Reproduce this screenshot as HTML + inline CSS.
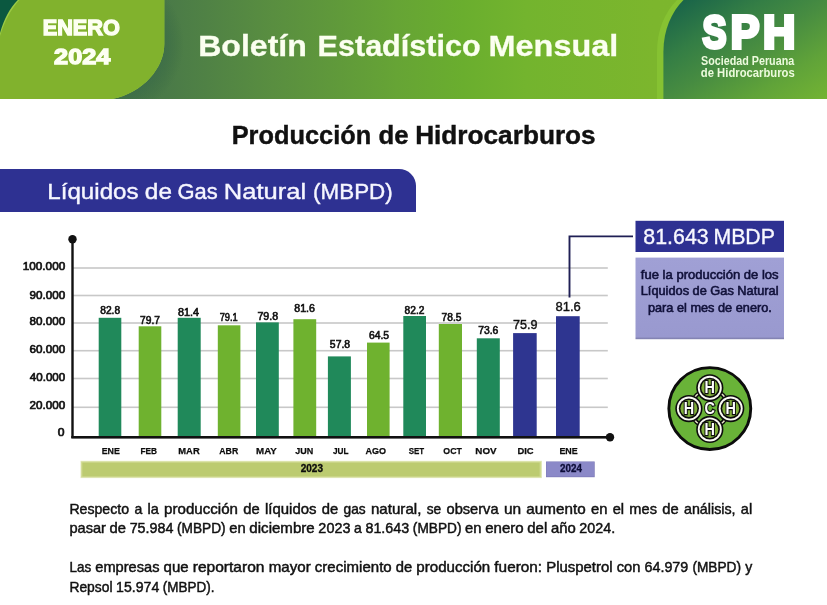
<!DOCTYPE html>
<html lang="es"><head><meta charset="utf-8"><title>Boletín Estadístico Mensual</title>
<style>
html,body{margin:0;padding:0;background:#fff;}
body{width:827px;height:605px;overflow:hidden;font-family:"Liberation Sans",sans-serif;}
svg{display:block;will-change:transform;font-family:"Liberation Sans",sans-serif;}
</style></head><body>
<svg width="827" height="605" viewBox="0 0 827 605">
<defs>
<linearGradient id="hdr" gradientUnits="userSpaceOnUse" x1="0" y1="0" x2="827" y2="0">
<stop offset="0" stop-color="#3f6f4a"/><stop offset="0.20" stop-color="#4a7a48"/><stop offset="0.33" stop-color="#598e40"/><stop offset="0.48" stop-color="#66a435"/><stop offset="0.56" stop-color="#6aae2e"/><stop offset="0.635" stop-color="#73b42e"/><stop offset="0.79" stop-color="#7cb62d"/><stop offset="1" stop-color="#7db72d"/>
</linearGradient>
<linearGradient id="logo" gradientUnits="userSpaceOnUse" x1="666" y1="0" x2="754" y2="145">
<stop offset="0" stop-color="#145f4a"/><stop offset="0.3" stop-color="#347e45"/><stop offset="0.5" stop-color="#478c41"/><stop offset="0.75" stop-color="#60a339"/><stop offset="1" stop-color="#74b433"/>
</linearGradient>
<radialGradient id="bshadow" gradientUnits="userSpaceOnUse" cx="112" cy="44" r="72">
<stop offset="0.72" stop-color="#2f6048" stop-opacity="0.4"/><stop offset="1" stop-color="#2a5a3a" stop-opacity="0"/>
</radialGradient>
<linearGradient id="lav" x1="0" y1="0" x2="0" y2="1">
<stop offset="0" stop-color="#a0a0d5"/><stop offset="0.97" stop-color="#9999cf"/><stop offset="1" stop-color="#7b7ba8"/>
</linearGradient>
</defs>

<rect x="0" y="0" width="827" height="99" fill="url(#hdr)"/>
<rect x="100" y="0" width="90" height="99" fill="url(#bshadow)"/>
<rect x="0" y="0" width="40" height="40" fill="#0b5840"/>
<path d="M16.6,0 L164.3,0 L164.3,44 C164.3,68 143,93 112,99 L0,99 L0,33 C4,19.5 9.5,8 17.8,0 Z" fill="#9ccb45"/>
<path d="M18,0 L164.3,0 L164.3,44 C164.3,68 143,93 112,99 L0,99 L0,36 C4.5,21.5 11,9 19.4,0 Z" fill="#81b22d"/>
<text x="42.75" y="34.80" font-size="22.24" font-weight="700" fill="#fdfff2" text-anchor="start" textLength="77.06" lengthAdjust="spacingAndGlyphs" stroke="#fdfff2" stroke-width="1.4" stroke-linejoin="miter">ENERO</text>
<text x="54.12" y="63.80" font-size="22.53" font-weight="700" fill="#fdfff2" text-anchor="start" textLength="56.21" lengthAdjust="spacingAndGlyphs" stroke="#fdfff2" stroke-width="1.4" stroke-linejoin="miter">2024</text>
<text y="56.35" font-size="30.38" font-weight="700" fill="#fbfff0" stroke="#fbfff0" stroke-width="0.3" stroke-linejoin="miter"><tspan x="198.21" textLength="108.63" lengthAdjust="spacingAndGlyphs">Boletín</tspan> <tspan x="317.61" textLength="162.94" lengthAdjust="spacingAndGlyphs">Estadístico</tspan> <tspan x="488.58" textLength="129.66" lengthAdjust="spacingAndGlyphs">Mensual</tspan></text>
<path d="M827,0 L827,99 L657,99 L657,52 C657,30 665,12 677,0 Z" fill="#86c232"/>
<path d="M827,0 L827,99 L663.4,99 L663.4,52 C663.4,30 671.5,12 683.5,0 Z" fill="url(#logo)"/>
<text y="48.10" font-size="46.80" font-weight="700" fill="#fff" stroke="#fff" stroke-width="3.8" stroke-linejoin="miter"><tspan x="702.47" textLength="23.94" lengthAdjust="spacingAndGlyphs">S</tspan><tspan x="730.63" textLength="28.64" lengthAdjust="spacingAndGlyphs">P</tspan><tspan x="762.91" textLength="32.31" lengthAdjust="spacingAndGlyphs">H</tspan></text>
<text x="700.99" y="65.00" font-size="12.21" font-weight="700" fill="#ecfadc" text-anchor="start" textLength="93.24" lengthAdjust="spacingAndGlyphs">Sociedad Peruana</text>
<text x="700.84" y="76.90" font-size="12.21" font-weight="700" fill="#ecfadc" text-anchor="start" textLength="93.92" lengthAdjust="spacingAndGlyphs">de Hidrocarburos</text>
<text y="144.30" font-size="24.85" font-weight="700" fill="#111" stroke="#111" stroke-width="0.4" stroke-linejoin="miter"><tspan x="231.70" textLength="139.47" lengthAdjust="spacingAndGlyphs">Producción</tspan> <tspan x="378.64" textLength="30.04" lengthAdjust="spacingAndGlyphs">de</tspan> <tspan x="415.15" textLength="180.53" lengthAdjust="spacingAndGlyphs">Hidrocarburos</tspan></text>
<path d="M0,169 L399,169 A17,17 0 0 1 416,186 L416,212 L0,212 Z" fill="#2e3192"/>
<text y="198.90" font-size="22.82" font-weight="400" fill="#f6f6ff" stroke="#f6f6ff" stroke-width="0.4" stroke-linejoin="miter"><tspan x="47.32" textLength="91.25" lengthAdjust="spacingAndGlyphs">Líquidos</tspan> <tspan x="144.88" textLength="27.11" lengthAdjust="spacingAndGlyphs">de</tspan> <tspan x="177.50" textLength="40.19" lengthAdjust="spacingAndGlyphs">Gas</tspan> <tspan x="223.81" textLength="82.30" lengthAdjust="spacingAndGlyphs">Natural</tspan> <tspan x="313.11" textLength="79.58" lengthAdjust="spacingAndGlyphs">(MBPD)</tspan></text>
<rect x="73" y="267.2" width="534.8" height="1.6" fill="#c8c8c8"/>
<rect x="73" y="294.7" width="534.8" height="1.6" fill="#c8c8c8"/>
<rect x="73" y="322.2" width="534.8" height="1.6" fill="#c8c8c8"/>
<rect x="73" y="349.9" width="534.8" height="1.6" fill="#c8c8c8"/>
<rect x="73" y="377.7" width="534.8" height="1.6" fill="#c8c8c8"/>
<rect x="73" y="406.5" width="534.8" height="1.6" fill="#c8c8c8"/>
<rect x="98.7" y="317.8" width="22.6" height="118.7" fill="#20895a"/>
<rect x="138.7" y="326.3" width="22.6" height="110.2" fill="#6fb22f"/>
<rect x="177.7" y="317.8" width="23.0" height="118.7" fill="#20895a"/>
<rect x="217.8" y="325.3" width="22.6" height="111.2" fill="#6fb22f"/>
<rect x="256.0" y="322.4" width="22.8" height="114.1" fill="#20895a"/>
<rect x="293.4" y="319.2" width="22.8" height="117.3" fill="#6fb22f"/>
<rect x="327.9" y="356.4" width="23.0" height="80.1" fill="#20895a"/>
<rect x="367.0" y="342.6" width="22.6" height="93.9" fill="#6fb22f"/>
<rect x="403.3" y="316.0" width="22.7" height="120.5" fill="#20895a"/>
<rect x="438.8" y="324.0" width="23.2" height="112.5" fill="#6fb22f"/>
<rect x="476.8" y="338.3" width="23.0" height="98.2" fill="#20895a"/>
<rect x="513.1" y="333.1" width="23.6" height="103.4" fill="#2e3590"/>
<rect x="556.0" y="316.2" width="23.7" height="120.3" fill="#2e3590"/>
<rect x="71.3" y="239" width="2.4" height="199" fill="#111"/>
<rect x="71.3" y="436" width="539" height="2.6" fill="#111"/>
<circle cx="72.5" cy="239.2" r="4.2" fill="#111"/>
<circle cx="610" cy="437.3" r="4.2" fill="#111"/>
<text x="22.76" y="269.85" font-size="11.48" font-weight="400" fill="#111" text-anchor="start" textLength="42.45" lengthAdjust="spacingAndGlyphs" stroke="#111" stroke-width="0.7" stroke-linejoin="miter">100.000</text>
<text x="29.60" y="299.15" font-size="11.48" font-weight="400" fill="#111" text-anchor="start" textLength="35.60" lengthAdjust="spacingAndGlyphs" stroke="#111" stroke-width="0.7" stroke-linejoin="miter">90.000</text>
<text x="29.64" y="325.35" font-size="11.48" font-weight="400" fill="#111" text-anchor="start" textLength="35.56" lengthAdjust="spacingAndGlyphs" stroke="#111" stroke-width="0.7" stroke-linejoin="miter">80.000</text>
<text x="29.56" y="352.55" font-size="11.48" font-weight="400" fill="#111" text-anchor="start" textLength="35.65" lengthAdjust="spacingAndGlyphs" stroke="#111" stroke-width="0.7" stroke-linejoin="miter">60.000</text>
<text x="29.89" y="380.55" font-size="11.48" font-weight="400" fill="#111" text-anchor="start" textLength="35.32" lengthAdjust="spacingAndGlyphs" stroke="#111" stroke-width="0.7" stroke-linejoin="miter">40.000</text>
<text x="29.56" y="409.15" font-size="11.48" font-weight="400" fill="#111" text-anchor="start" textLength="35.64" lengthAdjust="spacingAndGlyphs" stroke="#111" stroke-width="0.7" stroke-linejoin="miter">20.000</text>
<text x="57.68" y="436.25" font-size="11.48" font-weight="400" fill="#111" text-anchor="start" textLength="6.75" lengthAdjust="spacingAndGlyphs" stroke="#111" stroke-width="0.7" stroke-linejoin="miter">0</text>
<text x="101.73" y="454.38" font-size="9.96" font-weight="700" fill="#0c0c0c" text-anchor="start" textLength="18.19" lengthAdjust="spacingAndGlyphs" stroke="#0c0c0c" stroke-width="0.25" stroke-linejoin="miter">ENE</text>
<text x="140.47" y="454.38" font-size="9.96" font-weight="700" fill="#0c0c0c" text-anchor="start" textLength="16.58" lengthAdjust="spacingAndGlyphs" stroke="#0c0c0c" stroke-width="0.25" stroke-linejoin="miter">FEB</text>
<text x="178.30" y="454.38" font-size="9.96" font-weight="700" fill="#0c0c0c" text-anchor="start" textLength="21.37" lengthAdjust="spacingAndGlyphs" stroke="#0c0c0c" stroke-width="0.25" stroke-linejoin="miter">MAR</text>
<text x="219.31" y="454.38" font-size="9.96" font-weight="700" fill="#0c0c0c" text-anchor="start" textLength="18.95" lengthAdjust="spacingAndGlyphs" stroke="#0c0c0c" stroke-width="0.25" stroke-linejoin="miter">ABR</text>
<text x="256.10" y="454.38" font-size="9.96" font-weight="700" fill="#0c0c0c" text-anchor="start" textLength="20.72" lengthAdjust="spacingAndGlyphs" stroke="#0c0c0c" stroke-width="0.25" stroke-linejoin="miter">MAY</text>
<text x="295.29" y="454.38" font-size="9.96" font-weight="700" fill="#0c0c0c" text-anchor="start" textLength="17.99" lengthAdjust="spacingAndGlyphs" stroke="#0c0c0c" stroke-width="0.25" stroke-linejoin="miter">JUN</text>
<text x="333.00" y="454.38" font-size="9.96" font-weight="700" fill="#0c0c0c" text-anchor="start" textLength="15.53" lengthAdjust="spacingAndGlyphs" stroke="#0c0c0c" stroke-width="0.25" stroke-linejoin="miter">JUL</text>
<text x="365.40" y="454.38" font-size="9.96" font-weight="700" fill="#0c0c0c" text-anchor="start" textLength="20.55" lengthAdjust="spacingAndGlyphs" stroke="#0c0c0c" stroke-width="0.25" stroke-linejoin="miter">AGO</text>
<text x="408.70" y="454.38" font-size="9.96" font-weight="700" fill="#0c0c0c" text-anchor="start" textLength="15.46" lengthAdjust="spacingAndGlyphs" stroke="#0c0c0c" stroke-width="0.25" stroke-linejoin="miter">SET</text>
<text x="443.37" y="454.38" font-size="9.96" font-weight="700" fill="#0c0c0c" text-anchor="start" textLength="18.50" lengthAdjust="spacingAndGlyphs" stroke="#0c0c0c" stroke-width="0.25" stroke-linejoin="miter">OCT</text>
<text x="475.37" y="454.38" font-size="9.96" font-weight="700" fill="#0c0c0c" text-anchor="start" textLength="21.27" lengthAdjust="spacingAndGlyphs" stroke="#0c0c0c" stroke-width="0.25" stroke-linejoin="miter">NOV</text>
<text x="517.39" y="454.38" font-size="9.96" font-weight="700" fill="#0c0c0c" text-anchor="start" textLength="16.24" lengthAdjust="spacingAndGlyphs" stroke="#0c0c0c" stroke-width="0.25" stroke-linejoin="miter">DIC</text>
<text x="559.43" y="454.38" font-size="9.96" font-weight="700" fill="#0c0c0c" text-anchor="start" textLength="18.29" lengthAdjust="spacingAndGlyphs" stroke="#0c0c0c" stroke-width="0.25" stroke-linejoin="miter">ENE</text>
<text x="100.26" y="313.70" font-size="10.32" font-weight="400" fill="#111" text-anchor="start" textLength="19.89" lengthAdjust="spacingAndGlyphs" stroke="#111" stroke-width="0.6" stroke-linejoin="miter">82.8</text>
<text x="140.08" y="323.90" font-size="10.32" font-weight="400" fill="#111" text-anchor="start" textLength="19.84" lengthAdjust="spacingAndGlyphs" stroke="#111" stroke-width="0.6" stroke-linejoin="miter">79.7</text>
<text x="178.03" y="315.70" font-size="10.32" font-weight="400" fill="#111" text-anchor="start" textLength="20.98" lengthAdjust="spacingAndGlyphs" stroke="#111" stroke-width="0.6" stroke-linejoin="miter">81.4</text>
<text x="219.63" y="321.20" font-size="10.32" font-weight="400" fill="#111" text-anchor="start" textLength="18.03" lengthAdjust="spacingAndGlyphs" stroke="#111" stroke-width="0.6" stroke-linejoin="miter">79.1</text>
<text x="257.45" y="320.30" font-size="10.32" font-weight="400" fill="#111" text-anchor="start" textLength="20.71" lengthAdjust="spacingAndGlyphs" stroke="#111" stroke-width="0.6" stroke-linejoin="miter">79.8</text>
<text x="294.34" y="311.70" font-size="10.32" font-weight="400" fill="#111" text-anchor="start" textLength="20.63" lengthAdjust="spacingAndGlyphs" stroke="#111" stroke-width="0.6" stroke-linejoin="miter">81.6</text>
<text x="329.88" y="347.70" font-size="10.32" font-weight="400" fill="#111" text-anchor="start" textLength="20.27" lengthAdjust="spacingAndGlyphs" stroke="#111" stroke-width="0.6" stroke-linejoin="miter">57.8</text>
<text x="368.97" y="338.70" font-size="10.32" font-weight="400" fill="#111" text-anchor="start" textLength="20.16" lengthAdjust="spacingAndGlyphs" stroke="#111" stroke-width="0.6" stroke-linejoin="miter">64.5</text>
<text x="404.56" y="313.50" font-size="10.32" font-weight="400" fill="#111" text-anchor="start" textLength="19.86" lengthAdjust="spacingAndGlyphs" stroke="#111" stroke-width="0.6" stroke-linejoin="miter">82.2</text>
<text x="441.58" y="320.50" font-size="10.32" font-weight="400" fill="#111" text-anchor="start" textLength="19.85" lengthAdjust="spacingAndGlyphs" stroke="#111" stroke-width="0.6" stroke-linejoin="miter">78.5</text>
<text x="478.17" y="333.50" font-size="10.32" font-weight="400" fill="#111" text-anchor="start" textLength="20.19" lengthAdjust="spacingAndGlyphs" stroke="#111" stroke-width="0.6" stroke-linejoin="miter">73.6</text>
<text x="512.95" y="329.10" font-size="12.79" font-weight="400" fill="#111" text-anchor="start" textLength="24.54" lengthAdjust="spacingAndGlyphs" stroke="#111" stroke-width="0.4" stroke-linejoin="miter">75.9</text>
<text x="555.43" y="311.20" font-size="12.79" font-weight="400" fill="#111" text-anchor="start" textLength="25.34" lengthAdjust="spacingAndGlyphs" stroke="#111" stroke-width="0.4" stroke-linejoin="miter">81.6</text>
<rect x="80.5" y="460.8" width="461.4" height="17.3" fill="#e3e9bd"/>
<rect x="81.2" y="461.6" width="460" height="15.7" fill="#cfd990"/>
<rect x="82.4" y="462.7" width="457.2" height="13.6" fill="#bccb70"/>
<rect x="546.0" y="461.5" width="48.7" height="15.7" fill="#7a77b6"/>
<rect x="546.4" y="461.9" width="47.6" height="14.6" fill="#8b89c8"/>
<text x="300.70" y="472.05" font-size="10.03" font-weight="700" fill="#0c0c0c" text-anchor="start" textLength="22.31" lengthAdjust="spacingAndGlyphs" stroke="#0c0c0c" stroke-width="0.3" stroke-linejoin="miter">2023</text>
<text x="560.01" y="472.45" font-size="10.03" font-weight="700" fill="#0d0d38" text-anchor="start" textLength="21.89" lengthAdjust="spacingAndGlyphs" stroke="#0d0d38" stroke-width="0.3" stroke-linejoin="miter">2024</text>
<path d="M569.5,297.4 L569.5,236.4 L633,236.4" fill="none" stroke="#1f1f55" stroke-width="1.9"/>
<rect x="635.5" y="220.8" width="148.5" height="31.2" fill="#2e3192"/>
<text y="244.02" font-size="21.58" font-weight="400" fill="#f8f8ff" stroke="#f8f8ff" stroke-width="0.35" stroke-linejoin="miter"><tspan x="643.35" textLength="65.32" lengthAdjust="spacingAndGlyphs">81.643</tspan> <tspan x="713.43" textLength="61.52" lengthAdjust="spacingAndGlyphs">MBDP</tspan></text>
<rect x="635.5" y="257.6" width="148.5" height="81.6" fill="url(#lav)"/>
<text x="640.89" y="278.53" font-size="11.85" font-weight="400" fill="#11113a" text-anchor="start" textLength="137.71" lengthAdjust="spacingAndGlyphs" stroke="#11113a" stroke-width="0.55" stroke-linejoin="miter">fue la producción de los</text>
<text x="640.73" y="295.12" font-size="11.85" font-weight="400" fill="#11113a" text-anchor="start" textLength="137.85" lengthAdjust="spacingAndGlyphs" stroke="#11113a" stroke-width="0.55" stroke-linejoin="miter">Líquidos de Gas Natural</text>
<text x="647.95" y="311.53" font-size="11.85" font-weight="400" fill="#11113a" text-anchor="start" textLength="123.93" lengthAdjust="spacingAndGlyphs" stroke="#11113a" stroke-width="0.55" stroke-linejoin="miter">para el mes de enero.</text>
<circle cx="709.8" cy="408.6" r="40.95" fill="#69b338" stroke="#0c0c0c" stroke-width="2.9"/>
<circle cx="709.8" cy="408.6" r="21.0" fill="#0c0c0c"/>
<circle cx="709.8" cy="408.6" r="19.7" fill="#e4e2c4"/>
<circle cx="709.8" cy="408.6" r="18.2" fill="#0c0c0c"/>
<circle cx="709.8" cy="408.6" r="16.6" fill="#69b338"/>
<circle cx="709.8" cy="387.8" r="13.6" fill="#0c0c0c"/>
<circle cx="709.8" cy="387.8" r="12.0" fill="#fbfbf4"/>
<circle cx="709.8" cy="387.8" r="10.1" fill="#0c0c0c"/>
<circle cx="709.8" cy="387.8" r="8.5" fill="#7fae3a"/>
<text transform="translate(709.8,393.4) scale(0.88,1)" font-size="16.4" font-weight="700" fill="#fff" stroke="#0c0c0c" stroke-width="2.3" paint-order="stroke" text-anchor="middle">H</text>
<circle cx="709.8" cy="429.4" r="13.6" fill="#0c0c0c"/>
<circle cx="709.8" cy="429.4" r="12.0" fill="#fbfbf4"/>
<circle cx="709.8" cy="429.4" r="10.1" fill="#0c0c0c"/>
<circle cx="709.8" cy="429.4" r="8.5" fill="#7fae3a"/>
<text transform="translate(709.8,435.1) scale(0.88,1)" font-size="16.4" font-weight="700" fill="#fff" stroke="#0c0c0c" stroke-width="2.3" paint-order="stroke" text-anchor="middle">H</text>
<circle cx="688.9" cy="408.6" r="13.6" fill="#0c0c0c"/>
<circle cx="688.9" cy="408.6" r="12.0" fill="#fbfbf4"/>
<circle cx="688.9" cy="408.6" r="10.1" fill="#0c0c0c"/>
<circle cx="688.9" cy="408.6" r="8.5" fill="#7fae3a"/>
<text transform="translate(688.9,414.2) scale(0.88,1)" font-size="16.4" font-weight="700" fill="#fff" stroke="#0c0c0c" stroke-width="2.3" paint-order="stroke" text-anchor="middle">H</text>
<circle cx="730.7" cy="408.6" r="13.6" fill="#0c0c0c"/>
<circle cx="730.7" cy="408.6" r="12.0" fill="#fbfbf4"/>
<circle cx="730.7" cy="408.6" r="10.1" fill="#0c0c0c"/>
<circle cx="730.7" cy="408.6" r="8.5" fill="#7fae3a"/>
<text transform="translate(730.7,414.2) scale(0.88,1)" font-size="16.4" font-weight="700" fill="#fff" stroke="#0c0c0c" stroke-width="2.3" paint-order="stroke" text-anchor="middle">H</text>
<text transform="translate(709.8,414.2) scale(0.88,1)" font-size="16.4" font-weight="700" fill="#fff" stroke="#0c0c0c" stroke-width="2.3" paint-order="stroke" text-anchor="middle">C</text>
<text y="514.17" font-size="14.17" font-weight="400" fill="#111" stroke="#111" stroke-width="0.45"><tspan x="69.40" textLength="59.68" lengthAdjust="spacingAndGlyphs">Respecto</tspan> <tspan x="134.39" textLength="7.79" lengthAdjust="spacingAndGlyphs">a</tspan> <tspan x="147.48" textLength="11.33" lengthAdjust="spacingAndGlyphs">la</tspan> <tspan x="164.11" textLength="73.84" lengthAdjust="spacingAndGlyphs">producción</tspan> <tspan x="243.26" textLength="16.43" lengthAdjust="spacingAndGlyphs">de</tspan> <tspan x="264.99" textLength="51.51" lengthAdjust="spacingAndGlyphs">líquidos</tspan> <tspan x="321.81" textLength="16.43" lengthAdjust="spacingAndGlyphs">de</tspan> <tspan x="343.55" textLength="22.13" lengthAdjust="spacingAndGlyphs">gas</tspan> <tspan x="370.98" textLength="50.39" lengthAdjust="spacingAndGlyphs">natural,</tspan> <tspan x="426.68" textLength="14.53" lengthAdjust="spacingAndGlyphs">se</tspan> <tspan x="446.51" textLength="52.08" lengthAdjust="spacingAndGlyphs">observa</tspan> <tspan x="503.90" textLength="17.19" lengthAdjust="spacingAndGlyphs">un</tspan> <tspan x="526.39" textLength="59.25" lengthAdjust="spacingAndGlyphs">aumento</tspan> <tspan x="590.94" textLength="16.45" lengthAdjust="spacingAndGlyphs">en</tspan> <tspan x="612.69" textLength="11.40" lengthAdjust="spacingAndGlyphs">el</tspan> <tspan x="629.39" textLength="27.56" lengthAdjust="spacingAndGlyphs">mes</tspan> <tspan x="662.25" textLength="16.43" lengthAdjust="spacingAndGlyphs">de</tspan> <tspan x="683.99" textLength="51.58" lengthAdjust="spacingAndGlyphs">análisis,</tspan> <tspan x="740.87" textLength="11.33" lengthAdjust="spacingAndGlyphs">al</tspan></text>
<text y="533.27" font-size="14.17" font-weight="400" fill="#111" stroke="#111" stroke-width="0.45"><tspan x="69.40" textLength="36.54" lengthAdjust="spacingAndGlyphs">pasar</tspan> <tspan x="109.58" textLength="16.43" lengthAdjust="spacingAndGlyphs">de</tspan> <tspan x="129.65" textLength="43.75" lengthAdjust="spacingAndGlyphs">75.984</tspan> <tspan x="177.04" textLength="48.63" lengthAdjust="spacingAndGlyphs">(MBPD)</tspan> <tspan x="229.31" textLength="16.45" lengthAdjust="spacingAndGlyphs">en</tspan> <tspan x="249.39" textLength="65.35" lengthAdjust="spacingAndGlyphs">diciembre</tspan> <tspan x="318.38" textLength="32.02" lengthAdjust="spacingAndGlyphs">2023</tspan> <tspan x="354.03" textLength="7.79" lengthAdjust="spacingAndGlyphs">a</tspan> <tspan x="365.46" textLength="43.75" lengthAdjust="spacingAndGlyphs">81.643</tspan> <tspan x="412.84" textLength="48.63" lengthAdjust="spacingAndGlyphs">(MBPD)</tspan> <tspan x="465.11" textLength="16.45" lengthAdjust="spacingAndGlyphs">en</tspan> <tspan x="485.20" textLength="38.47" lengthAdjust="spacingAndGlyphs">enero</tspan> <tspan x="527.31" textLength="19.97" lengthAdjust="spacingAndGlyphs">del</tspan> <tspan x="550.92" textLength="24.83" lengthAdjust="spacingAndGlyphs">año</tspan> <tspan x="579.39" textLength="35.75" lengthAdjust="spacingAndGlyphs">2024.</tspan></text>
<text y="571.77" font-size="14.17" font-weight="400" fill="#111" stroke="#111" stroke-width="0.45"><tspan x="69.40" textLength="21.73" lengthAdjust="spacingAndGlyphs">Las</tspan> <tspan x="95.27" textLength="64.17" lengthAdjust="spacingAndGlyphs">empresas</tspan> <tspan x="163.57" textLength="25.03" lengthAdjust="spacingAndGlyphs">que</tspan> <tspan x="192.73" textLength="71.81" lengthAdjust="spacingAndGlyphs">reportaron</tspan> <tspan x="268.67" textLength="42.03" lengthAdjust="spacingAndGlyphs">mayor</tspan> <tspan x="314.84" textLength="76.85" lengthAdjust="spacingAndGlyphs">crecimiento</tspan> <tspan x="395.83" textLength="16.43" lengthAdjust="spacingAndGlyphs">de</tspan> <tspan x="416.39" textLength="73.84" lengthAdjust="spacingAndGlyphs">producción</tspan> <tspan x="494.37" textLength="47.68" lengthAdjust="spacingAndGlyphs">fueron:</tspan> <tspan x="546.19" textLength="66.33" lengthAdjust="spacingAndGlyphs">Pluspetrol</tspan> <tspan x="616.65" textLength="23.71" lengthAdjust="spacingAndGlyphs">con</tspan> <tspan x="644.50" textLength="43.75" lengthAdjust="spacingAndGlyphs">64.979</tspan> <tspan x="692.38" textLength="48.63" lengthAdjust="spacingAndGlyphs">(MBPD)</tspan> <tspan x="745.15" textLength="7.05" lengthAdjust="spacingAndGlyphs">y</tspan></text>
<text y="591.67" font-size="14.17" font-weight="400" fill="#111" stroke="#111" stroke-width="0.45"><tspan x="69.40" textLength="43.14" lengthAdjust="spacingAndGlyphs">Repsol</tspan> <tspan x="116.12" textLength="43.12" lengthAdjust="spacingAndGlyphs">15.974</tspan> <tspan x="162.83" textLength="51.61" lengthAdjust="spacingAndGlyphs">(MBPD).</tspan></text>
</svg>
</body></html>
